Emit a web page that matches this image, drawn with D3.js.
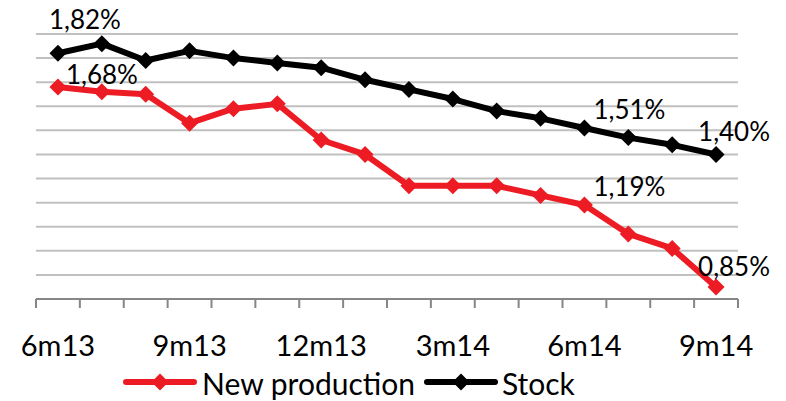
<!DOCTYPE html>
<html>
<head>
<meta charset="utf-8">
<script src="https://cdn.jsdelivr.net/npm/d3@7"></script>
<style>
  html, body { margin: 0; padding: 0; background: #ffffff; }
  svg { display: block; }
  text { font-family: Lato, "Open Sans", sans-serif; fill: #000; }
</style>
</head>
<body>
<svg id="chart" width="786" height="401"></svg>
<script>
// Monthly periods, June 2013 to September 2014
const months = ["6m13","7m13","8m13","9m13","10m13","11m13","12m13","1m14","2m14",
                "3m14","4m14","5m14","6m14","7m14","8m14","9m14"];
// Only every third month carries a tick label
const tickLabels = ["6m13","9m13","12m13","3m14","6m14","9m14"];

// Rates, in percent
const newProduction = [1.68,1.66,1.65,1.53,1.59,1.61,1.46,1.40,1.27,1.27,1.27,1.23,1.19,1.07,1.01,0.85];
const stock         = [1.82,1.86,1.79,1.83,1.80,1.78,1.76,1.71,1.67,1.63,1.58,1.55,1.51,1.47,1.44,1.40];

const gridValues = [0.9,1.0,1.1,1.2,1.3,1.4,1.5,1.6,1.7,1.8,1.9];

const svg = d3.select("#chart");
const plotLeft = 36, plotRight = 738, plotTop = 34, plotBottom = 299;

const x = d3.scaleBand().domain(months).range([plotLeft, plotRight]);
const y = d3.scaleLinear().domain([0.8, 1.9]).range([plotBottom, plotTop]);
const cx = d => x(d) + x.bandwidth() / 2;

// horizontal gridlines
svg.append("g").selectAll("line").data(gridValues).join("line")
  .attr("x1", plotLeft).attr("x2", plotRight)
  .attr("y1", d => y(d)).attr("y2", d => y(d))
  .attr("stroke", "#c0c0c0").attr("stroke-width", 2);

// category axis: line plus ticks at band boundaries
const axis = svg.append("g");
axis.append("line")
  .attr("x1", plotLeft).attr("x2", plotRight).attr("y1", plotBottom).attr("y2", plotBottom)
  .attr("stroke", "#868686").attr("stroke-width", 2);
const bounds = months.map(m => x(m)).concat([plotRight]);
axis.selectAll("line.tick").data(bounds).join("line").attr("class", "tick")
  .attr("x1", d => d).attr("x2", d => d)
  .attr("y1", plotBottom).attr("y2", plotBottom + 9)
  .attr("stroke", "#868686").attr("stroke-width", 2);
axis.selectAll("text").data(tickLabels).join("text")
  .attr("x", d => cx(d)).attr("y", 356)
  .attr("text-anchor", "middle")
  .attr("font-size", 29)
  .text(d => d);

const line = d3.line().x((d, i) => cx(months[i])).y(d => y(d));
const diamondPath = "M0,-8.5L8.5,0L0,8.5L-8.5,0Z";

function drawSeries(values, color) {
  const g = svg.append("g");
  g.append("path").datum(values)
    .attr("d", line)
    .attr("fill", "none").attr("stroke", color)
    .attr("stroke-width", 6).attr("stroke-linejoin", "round");
  g.selectAll("path.m").data(values).join("path").attr("class", "m")
    .attr("d", diamondPath)
    .attr("transform", (d, i) => `translate(${cx(months[i])},${y(d)})`)
    .attr("fill", color);
}

drawSeries(newProduction, "#ed1c24");
drawSeries(stock, "#000000");

// value labels
const fmt = v => v.toFixed(2).replace(".", ",") + "%";
const labels = [
  { series: stock, i: 0,  dx: -9, dy: -24 },
  { series: newProduction, i: 0, dx: 8, dy: -3 },
  { series: stock, i: 12, dx: 9, dy: -9 },
  { series: stock, i: 15, dx: -18, dy: -13 },
  { series: newProduction, i: 12, dx: 9, dy: -9 },
  { series: newProduction, i: 15, dx: -18, dy: -11 }
];
svg.append("g").selectAll("text").data(labels).join("text")
  .attr("x", d => cx(months[d.i]) + d.dx)
  .attr("y", d => y(d.series[d.i]) + d.dy)
  .attr("font-size", 26)
  .text(d => fmt(d.series[d.i]));

// legend
const legend = [
  { name: "New production", color: "#ed1c24", x1: 126, x2: 194, tx: 202 },
  { name: "Stock", color: "#000000", x1: 427, x2: 495, tx: 502 }
];
const lg = svg.append("g").selectAll("g").data(legend).join("g");
lg.append("line")
  .attr("x1", d => d.x1).attr("x2", d => d.x2).attr("y1", 382).attr("y2", 382)
  .attr("stroke", d => d.color).attr("stroke-width", 6).attr("stroke-linecap", "round");
lg.append("path")
  .attr("d", diamondPath)
  .attr("transform", d => `translate(${(d.x1 + d.x2) / 2},382)`)
  .attr("fill", d => d.color);
lg.append("text")
  .attr("x", d => d.tx).attr("y", 395)
  .attr("font-size", 30)
  .text(d => d.name);
</script>
</body>
</html>
